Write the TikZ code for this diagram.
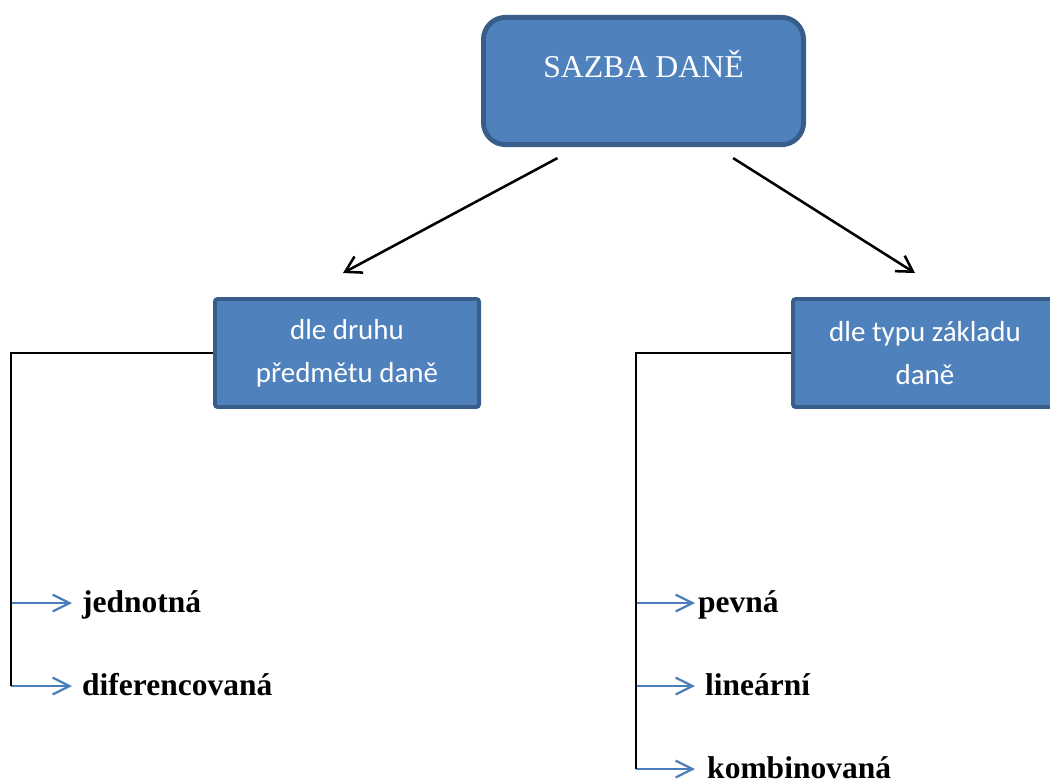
\documentclass[tikz,border=0pt]{standalone}
\usepackage{fontspec}
\setmainfont{Liberation Serif}
\newfontfamily\boxfont{Carlito}
\usetikzlibrary{arrows.meta}

\definecolor{boxfill}{HTML}{4F81BD}
\definecolor{boxline}{HTML}{385D8A}
\definecolor{itemblue}{HTML}{4A7EBB}

\tikzset{
  topbox/.style={draw=boxline, fill=boxfill, line width=3.5pt, rounded corners=0.55cm,
    minimum width=8.0cm, minimum height=3.18cm, text=white,
    font=\fontsize{22.6}{27}\selectfont, text height=0.5cm, text depth=0.7cm},
  subbox/.style={draw=boxline, fill=boxfill, line width=2.8pt, rounded corners=2pt,
    minimum width=6.6cm, minimum height=2.7cm, text=white, align=center,
    font=\boxfont\fontsize{20.6}{30.6}\selectfont},
  link/.style={line width=1.3pt},
  down arrow/.style={line width=1.8pt, -{Straight Barb[length=11pt,width=13pt]}},
  blue arrow/.style={itemblue, line width=1.6pt, -{Straight Barb[length=12pt,width=12pt]}},
  item/.style={anchor=west, font=\fontsize{22.4}{26}\selectfont\bfseries,
    text height=0.6cm, text depth=0.15cm, inner ysep=0pt}
}

\begin{document}
\begin{tikzpicture}[x=0.025cm, y=-0.025cm]

  % page
  \clip (0,0) rectangle (1050,779);

  % Boxes
  \node[topbox] (sazba) at (643.5,81) {SAZBA DANĚ};
  \node[subbox] (druh) at (347,353) {dle druhu\\předmětu daně};
  \node[subbox] (typ) at (925,353) {dle typu základu\\daně};

  % Arrows from the top
  \draw[down arrow] ([xshift=-2.15cm,yshift=-0.275cm]sazba.south) -- ([xshift=-0.1cm,yshift=0.6cm]druh.north);
  \draw[down arrow] ([xshift=2.24cm,yshift=-0.275cm]sazba.south) -- ([xshift=-0.25cm,yshift=0.6cm]typ.north);

  % Brackets
  \coordinate (lbar) at (11,0);
  \coordinate (rbar) at (636,0);

  % Items left
  \foreach \n/\y/\g/\t in {jed/603/7pt/jednotná, dif/686/7pt/diferencovaná}
    {\node[item, inner xsep=\g] (\n) at (72,\y) {\t};
     \draw[blue arrow] (\n.west -| lbar) -- (\n.west);}

  % Items right
  \foreach \n/\y/\g/\t in {pev/603/2pt/pevná, lin/686/7pt/lineární, kom/769/8.5pt/kombinovaná}
    {\node[item, inner xsep=\g] (\n) at (695,\y) {\t};
     \draw[blue arrow] (\n.west -| rbar) -- (\n.west);}

  \draw[link] (druh.west) -- (druh.west -| lbar) -- (lbar |- dif.west);
  \draw[link] (typ.west) -- (typ.west -| rbar) -- (rbar |- kom.west);

\end{tikzpicture}
\end{document}
